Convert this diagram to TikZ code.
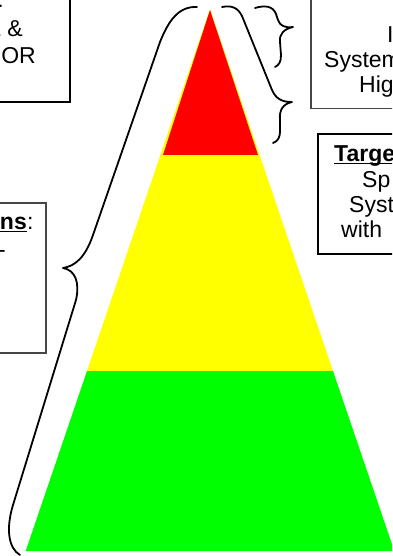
\documentclass[tikz,border=0pt]{standalone}
\usepackage{fontspec}
\setmainfont{Liberation Sans}
\definecolor{pyrred}{RGB}{255,0,0}
\definecolor{pyryellow}{RGB}{255,255,0}
\definecolor{pyrgreen}{RGB}{0,255,0}
\definecolor{framegray}{RGB}{70,70,70}
\definecolor{logoblue}{RGB}{70,110,180}
\begin{document}
\begin{tikzpicture}[x=1pt,y=-1pt,
  lbl/.style={inner sep=0pt, font=\fontsize{23}{27}\selectfont},
  frame/.style={draw=black, line width=1.3pt},
  softframe/.style={draw=framegray, line width=1.1pt},
  brace/.style={draw=black, line width=1.8pt, line cap=round, line join=round},
  uline/.style={line width=1.6pt}]
\useasboundingbox (0,0) rectangle (392,556);
\begin{scope}
\clip (0,0) rectangle (392,556);

% three-tier pyramid
\coordinate (apex) at (210,9);
\fill[pyryellow] (apex) -- (87,371) -- (333,371) -- cycle;
\fill[pyrgreen] (87,371) -- (333,371) -- (394.3,551) -- (25.7,551) -- cycle;
\fill[pyrred] (210,10) -- (163,155) -- (258,155) -- cycle;

% corner of a logo
\fill[logoblue] (399,563) circle (10);

% text boxes
\draw[frame] (-20,-20) rectangle (70,102);
\draw[softframe] (311,-20) rectangle (420,108.5);
\draw[frame] (318,134) rectangle (420,254);
\draw[softframe] (-20,203) rectangle (46,353);

% left brace spanning the whole pyramid
\draw[brace] (197,7) .. controls (178,6) and (168,22) .. (160,42)
  -- (93,235) .. controls (85,258) and (75,266) .. (63,268)
  .. controls (75,270) and (80,282) .. (76,300)
  -- (13,505) .. controls (6,528) and (8,548) .. (20,555);

% right brace spanning the red tier
\draw[brace] (222,7) .. controls (232,5) and (238,8) .. (242,16)
  -- (272,90) .. controls (276,99) and (282,102) .. (292,102)
  .. controls (283,104) and (279,110) .. (280,120)
  -- (280,130) .. controls (280,138) and (278,141) .. (273,143);

% short brace at the tip
\draw[brace] (255,8) .. controls (265,5) and (273,6) .. (276,14)
  -- (278,20) .. controls (280,26) and (285,28) .. (293,27)
  .. controls (284,29) and (279,34) .. (280,42)
  -- (281,55) .. controls (281,62) and (279,65) .. (275,67);

% box texts
\node[lbl, anchor=base east] (a1) at (4,8) {:};
\node[lbl, anchor=base east] (a2) at (23,37) {L \&};
\node[lbl, anchor=base east] (a3) at (36,64) {OR};

\node[lbl, anchor=base west] (b1) at (387,43) {I};
\node[lbl, anchor=base west] (b2) at (324,68) {System};
\node[lbl, anchor=base west] (b3) at (359,93) {Hig};

\node[lbl, anchor=base west] (c1) at (334,161) {\bfseries Targe};
\draw[uline] ([yshift=-2.5pt]c1.base west) -- ([yshift=-2.5pt]c1.base east);
\node[lbl, anchor=base west] (c2) at (362,187) {Sp};
\node[lbl, anchor=base west] (c3) at (349,212) {Syst};
\node[lbl, anchor=base west] (c4) at (341,237) {with};

\node[lbl, anchor=base east] (d1) at (27,229) {\bfseries ons};
\draw[uline] ([yshift=-2.5pt]d1.base west) -- ([yshift=-2.5pt]d1.base east);
\node[lbl, anchor=base west] (d1c) at (d1.base east) {:};
\node[lbl, anchor=base east] (d2) at (6,257) {-};
\end{scope}
\end{tikzpicture}
\end{document}
